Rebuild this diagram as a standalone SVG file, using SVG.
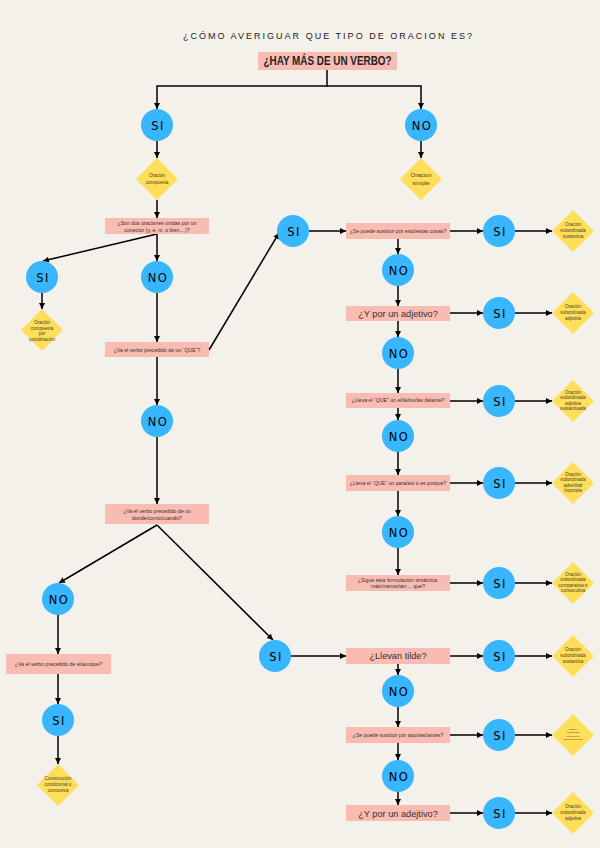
<svg xmlns="http://www.w3.org/2000/svg" width="600" height="848" viewBox="0 0 600 848">
<defs>
<marker id="arr" markerUnits="userSpaceOnUse" markerWidth="7" markerHeight="7" refX="6" refY="3" orient="auto">
<path d="M0,0 L6,3 L0,6 z" fill="#000"/>
</marker>
<style>
.box{fill:#f9bcb2}
.cir{fill:#38b6ff}
.dia{fill:#ffde59}
.ct{font-family:"DejaVu Sans",sans-serif;font-size:11.5px;letter-spacing:1.5px;fill:#000;text-anchor:middle}
.bt{font-family:"Liberation Sans",Arial,sans-serif;font-size:5.2px;fill:#3a2e2e;text-anchor:middle}
.bb{font-family:"Liberation Sans",Arial,sans-serif;font-size:9.2px;fill:#3a2e2e;text-anchor:middle}
.dt{font-family:"Liberation Sans",Arial,sans-serif;font-size:4.6px;fill:#4a3c2a;text-anchor:middle}
.dtl{font-family:"Liberation Sans",Arial,sans-serif;font-size:6px;fill:#4a3c2a;text-anchor:middle}
.ln{fill:none;stroke:#000;stroke-width:1.5}
.a{marker-end:url(#arr)}
</style>
</defs>
<rect width="600" height="848" fill="#f4f0ea"/>
<text x="327.5" y="39" font-family="Liberation Sans,Arial,sans-serif" font-size="9" fill="#222" text-anchor="middle" textLength="289" lengthAdjust="spacing">¿CÓMO AVERIGUAR QUE TIPO DE ORACION ES?</text>

<g id="connectors" class="ln">
<path class="a" d="M327,70 V86 H157 V109"/>
<path class="a" d="M327,86 H421 V109"/>
<path class="a" d="M157,141 V158"/>
<path class="a" d="M421,141 V158"/>
<path class="a" d="M157,200 V218"/>
<path class="a" d="M157,234 L43,261"/>
<path class="a" d="M157,234 V261"/>
<path class="a" d="M42,293 V309"/>
<path class="a" d="M157,293 V342"/>
<path class="a" d="M209,350 L279,233"/>
<path class="a" d="M157,357 V405"/>
<path class="a" d="M157,437 V504"/>
<path class="a" d="M157,525 L59,583"/>
<path class="a" d="M157,525 L273,640"/>
<path class="a" d="M58,615 V654"/>
<path class="a" d="M58,674 V704"/>
<path class="a" d="M58,736 V764"/>
<path class="a" d="M309,231 H346"/>
<path class="a" d="M450,231 H483"/>
<path class="a" d="M515,231 H552"/>
<path class="a" d="M398,239 V254"/>
<path class="a" d="M398,286 V306"/>
<path class="a" d="M450,313 H483"/>
<path class="a" d="M515,313 H552"/>
<path class="a" d="M398,321 V337"/>
<path class="a" d="M398,369 V393"/>
<path class="a" d="M450,401 H483"/>
<path class="a" d="M515,401 H552"/>
<path class="a" d="M398,408 V420"/>
<path class="a" d="M398,452 V475"/>
<path class="a" d="M450,483 H483"/>
<path class="a" d="M515,483 H552"/>
<path class="a" d="M398,491 V516"/>
<path class="a" d="M398,548 V575"/>
<path class="a" d="M450,583 H483"/>
<path class="a" d="M515,583 H552"/>
<path class="a" d="M291,656 H346"/>
<path class="a" d="M450,656 H483"/>
<path class="a" d="M515,656 H552"/>
<path class="a" d="M398,664 V675"/>
<path class="a" d="M398,707 V727"/>
<path class="a" d="M450,735 H483"/>
<path class="a" d="M515,735 H552"/>
<path class="a" d="M398,743 V760"/>
<path class="a" d="M398,792 V805"/>
<path class="a" d="M450,813 H483"/>
<path class="a" d="M515,813 H552"/>
</g>

<g id="n_top"><rect class="box" x="258" y="52" width="139" height="18"/><text x="327.5" y="65" font-family="Liberation Sans,Arial,sans-serif" font-weight="bold" font-size="12" fill="#222" text-anchor="middle" textLength="128" lengthAdjust="spacingAndGlyphs">¿HAY MÁS DE UN VERBO?</text></g>

<g id="c_si1"><circle class="cir" cx="157" cy="125" r="16"/><text class="ct" x="158" y="129.5">SI</text></g>
<g id="c_no1"><circle class="cir" cx="421" cy="125" r="16"/><text class="ct" x="422" y="129.5">NO</text></g>

<g id="d_compuesta"><path class="dia" d="M157,158 L178,179 L157,200 L136,179 z"/><text class="dt" x="157" y="177">Oracion</text><text class="dt" x="157" y="184">compuesta</text></g>
<g id="d_simple"><path class="dia" d="M421,158 L442,179 L421,200 L400,179 z"/><text class="dtl" x="421" y="177">Oracion</text><text class="dtl" x="421" y="185">simple</text></g>

<g id="b_son"><rect class="box" x="105" y="218" width="104" height="16"/><text class="bt" x="157" y="225">¿Son dos oraciones unidas por un</text><text class="bt" x="157" y="231.5">conector (y, e, ni, o bien,...)?</text></g>

<g id="c_si2"><circle class="cir" cx="42" cy="277" r="16"/><text class="ct" x="43" y="281.5">SI</text></g>
<g id="c_no2"><circle class="cir" cx="157" cy="277" r="16"/><text class="ct" x="158" y="281.5">NO</text></g>

<g id="d_coord"><path class="dia" d="M42,309 L63,330 L42,351 L21,330 z"/><text class="dt" x="42" y="324">Oración</text><text class="dt" x="42" y="329.5">compuesta</text><text class="dt" x="42" y="335">por</text><text class="dt" x="42" y="340.5">coordinación</text></g>

<g id="b_que"><rect class="box" x="105" y="342" width="104" height="15"/><text class="bt" x="157" y="351.5">¿Va el verbo precedido de un “QUE”?</text></g>

<g id="c_no3"><circle class="cir" cx="157" cy="421" r="16"/><text class="ct" x="158" y="425.5">NO</text></g>

<g id="b_donde"><rect class="box" x="105" y="504" width="104" height="20"/><text class="bt" x="157" y="512.5">¿Va el verbo precedido de un</text><text class="bt" x="157" y="519.5">donde/como/cuando?</text></g>

<g id="c_no4"><circle class="cir" cx="58" cy="599" r="16"/><text class="ct" x="59" y="603.5">NO</text></g>
<g id="b_si_aunque"><rect class="box" x="6" y="654" width="105" height="20"/><text class="bt" x="58.5" y="665.5">¿Va el verbo precedido de si/aunque?</text></g>
<g id="c_si5"><circle class="cir" cx="58" cy="720" r="16"/><text class="ct" x="59" y="724.5">SI</text></g>
<g id="d_cond"><path class="dia" d="M58,764 L79,785 L58,806 L37,785 z"/><text class="dt" x="58" y="780">Construcción</text><text class="dt" x="58" y="786">condicional o</text><text class="dt" x="58" y="792">concesiva</text></g>

<g id="c_si3"><circle class="cir" cx="293" cy="231" r="16"/><text class="ct" x="294" y="235.5">SI</text></g>
<g id="c_si4"><circle class="cir" cx="275" cy="656" r="16"/><text class="ct" x="276" y="660.5">SI</text></g>

<g id="b_esto"><rect class="box" x="346" y="223" width="104" height="16"/><text class="bt" x="398" y="232.8">¿Se puede sustituir por esto/estas cosas?</text></g>
<g id="c_si_r1"><circle class="cir" cx="499" cy="231" r="16"/><text class="ct" x="500" y="235.5">SI</text></g>
<g id="d_sust1"><path class="dia" d="M573,210 L594,231 L573,252 L552,231 z"/><text class="dt" x="573" y="226">Oración</text><text class="dt" x="573" y="232">subordinada</text><text class="dt" x="573" y="238">sustantiva</text></g>
<g id="c_no_r1"><circle class="cir" cx="398" cy="270" r="16"/><text class="ct" x="399" y="274.5">NO</text></g>

<g id="b_adj"><rect class="box" x="346" y="306" width="104" height="15"/><text class="bb" x="398" y="317">¿Y por un adjetivo?</text></g>
<g id="c_si_r2"><circle class="cir" cx="499" cy="313" r="16"/><text class="ct" x="500" y="317.5">SI</text></g>
<g id="d_adj1"><path class="dia" d="M573,292 L594,313 L573,334 L552,313 z"/><text class="dt" x="573" y="308">Oración</text><text class="dt" x="573" y="314">subordinada</text><text class="dt" x="573" y="320">adjetiva</text></g>
<g id="c_no_r2"><circle class="cir" cx="398" cy="353" r="16"/><text class="ct" x="399" y="357.5">NO</text></g>

<g id="b_el"><rect class="box" x="346" y="393" width="104" height="15"/><text class="bt" x="398" y="402.3">¿Lleva el “QUE” un el/la/los/las delante?</text></g>
<g id="c_si_r3"><circle class="cir" cx="499" cy="401" r="16"/><text class="ct" x="500" y="405.5">SI</text></g>
<g id="d_adjsust"><path class="dia" d="M573,380 L594,401 L573,422 L552,401 z"/><text class="dt" x="573" y="393.5">Oración</text><text class="dt" x="573" y="399">subordinada</text><text class="dt" x="573" y="404.5">adjetiva</text><text class="dt" x="573" y="410">sustantivada</text></g>
<g id="c_no_r3"><circle class="cir" cx="398" cy="436" r="16"/><text class="ct" x="399" y="440.5">NO</text></g>

<g id="b_para"><rect class="box" x="346" y="475" width="104" height="16"/><text class="bt" x="398" y="484.8">¿Lleva el “QUE” un para/así o es porque?</text></g>
<g id="c_si_r4"><circle class="cir" cx="499" cy="483" r="16"/><text class="ct" x="500" y="487.5">SI</text></g>
<g id="d_impropia"><path class="dia" d="M573,462 L594,483 L573,504 L552,483 z"/><text class="dt" x="573" y="475.5">Oración</text><text class="dt" x="573" y="481">subordinada</text><text class="dt" x="573" y="486.5">adverbial</text><text class="dt" x="573" y="492">impropia</text></g>
<g id="c_no_r4"><circle class="cir" cx="398" cy="532" r="16"/><text class="ct" x="399" y="536.5">NO</text></g>

<g id="b_sigue"><rect class="box" x="346" y="575" width="104" height="16"/><text class="bt" x="398" y="581.5">¿Sigue esta formulación sintáctica:</text><text class="bt" x="398" y="588">más/menos/tan ... que?</text></g>
<g id="c_si_r5"><circle class="cir" cx="499" cy="583" r="16"/><text class="ct" x="500" y="587.5">SI</text></g>
<g id="d_comp"><path class="dia" d="M573,562 L594,583 L573,604 L552,583 z"/><text class="dt" x="573" y="575.5">Oración</text><text class="dt" x="573" y="581">subordinada</text><text class="dt" x="573" y="586.5">comparativa o</text><text class="dt" x="573" y="592">consecutiva</text></g>

<g id="b_tilde"><rect class="box" x="346" y="648" width="104" height="16"/><text class="bb" x="398" y="658.8" font-size="7.7">¿Llevan tilde?</text></g>
<g id="c_si_r6"><circle class="cir" cx="499" cy="656" r="16"/><text class="ct" x="500" y="660.5">SI</text></g>
<g id="d_sust2"><path class="dia" d="M573,635 L594,656 L573,677 L552,656 z"/><text class="dt" x="573" y="651">Oración</text><text class="dt" x="573" y="657">subordinada</text><text class="dt" x="573" y="663">sustantiva</text></g>
<g id="c_no_r6"><circle class="cir" cx="398" cy="691" r="16"/><text class="ct" x="399" y="695.5">NO</text></g>

<g id="b_aqui"><rect class="box" x="346" y="727" width="104" height="16"/><text class="bt" x="398" y="736.8">¿Se puede sustituir por aquí/así/antes?</text></g>
<g id="c_si_r7"><circle class="cir" cx="499" cy="735" r="16"/><text class="ct" x="500" y="739.5">SI</text></g>
<g id="d_lugar"><path class="dia" d="M573,714 L594,735 L573,756 L552,735 z"/><g transform="translate(573,735) scale(0.5)"><text class="dt" x="0" y="-11" font-size="5">Oración</text><text class="dt" x="0" y="-4" font-size="5">subordinada</text><text class="dt" x="0" y="3" font-size="5">adverbial de</text><text class="dt" x="0" y="10" font-size="5">lugar/modo/tiempo</text></g></g>
<g id="c_no_r7"><circle class="cir" cx="398" cy="776" r="16"/><text class="ct" x="399" y="780.5">NO</text></g>

<g id="b_adejtivo"><rect class="box" x="346" y="805" width="104" height="16"/><text class="bb" x="398" y="816.5">¿Y por un adejtivo?</text></g>
<g id="c_si_r8"><circle class="cir" cx="499" cy="813" r="16"/><text class="ct" x="500" y="817.5">SI</text></g>
<g id="d_adj2"><path class="dia" d="M573,792 L594,813 L573,834 L552,813 z"/><text class="dt" x="573" y="808">Oración</text><text class="dt" x="573" y="814">subordinada</text><text class="dt" x="573" y="820">adjetiva</text></g>
</svg>
